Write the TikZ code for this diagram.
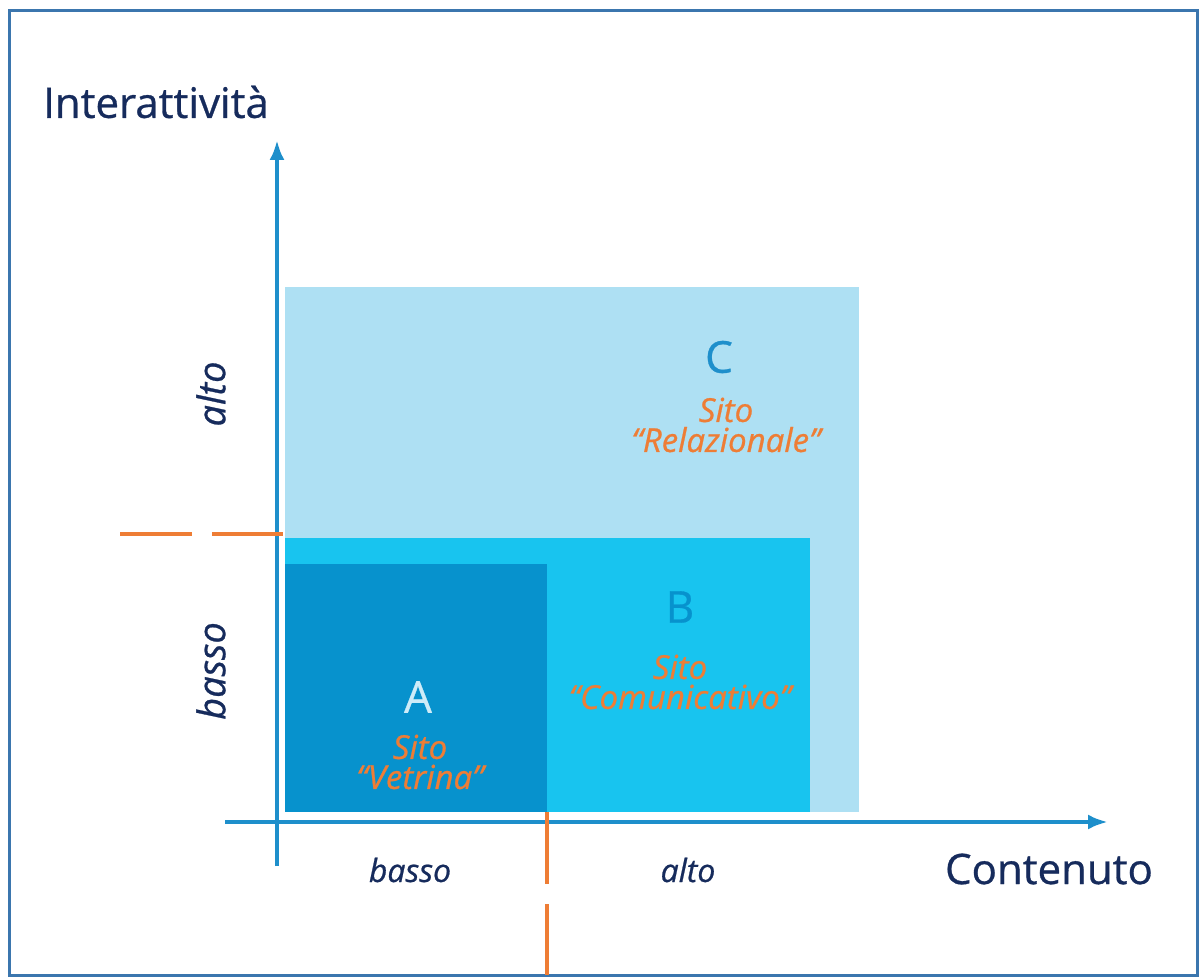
\documentclass[tikz,border=0pt]{standalone}
\usepackage{fontspec}
\setmainfont{Open Sans}[FakeBold=0.7]
\usetikzlibrary{arrows.meta}
\definecolor{frameblue}{HTML}{3B76AE}
\definecolor{axisblue}{HTML}{1E8FCB}
\definecolor{navy}{HTML}{162B5C}
\definecolor{zoneC}{HTML}{AEE0F3}
\definecolor{zoneB}{HTML}{18C4EF}
\definecolor{zoneA}{HTML}{0792CD}
\definecolor{markorange}{HTML}{EE7D35}
\begin{document}
\begin{tikzpicture}[x=0.5pt, y=-0.5pt,
		axis/.style={axisblue, line width=2pt, -{Latex[length=10pt, width=7.5pt]}},
		split/.style={markorange, line width=2pt, dash pattern=on 36pt off 10pt},
		title/.style={navy, font=\fontsize{21}{25}\selectfont},
		level/.style={navy, font=\fontsize{16}{19}\selectfont\itshape},
		sidelevel/.style={level, rotate=90, font=\fontsize{19}{22}\selectfont\itshape},
		zone/.style={font=\fontsize{22}{26}\selectfont},
		kind/.style={markorange, align=center, font=\fontsize{16.5}{15}\selectfont\itshape}]
		% frame
		\useasboundingbox (0, 0) rectangle (1200, 978);
		\draw[frameblue, line width=1.5pt] (9, 11) rectangle (1197, 975);
		% zones, largest first
		\fill[zoneC] (285, 287) rectangle (859, 812);
		\fill[zoneB] (285, 538) rectangle (810, 812);
		\fill[zoneA] (285, 564) rectangle (547, 812);
		% axes
		\coordinate (ybottom) at (277, 866);
		\coordinate (ytop) at (277, 140);
		\coordinate (xleft) at (225, 822);
		\coordinate (xright) at (1108, 822);
		\draw[axis] (ybottom) -- (ytop);
		\draw[axis] (xleft) -- (xright);
		% threshold marks
		\coordinate (hstart) at (120, 534);
		\coordinate (hend) at (283, 534);
		\coordinate (vstart) at (547, 812);
		\coordinate (vend) at (547, 975);
		\draw[split] (hstart) -- (hend);
		\draw[split] (vstart) -- (vend);
		% axis titles
		\node[title] (ytitle) at (156, 102) {Interattività};
		\node[title] (xtitle) at (1049, 869) {Contenuto};
		\node[sidelevel] (yhigh) at (211, 394) {alto};
		\node[sidelevel] (ylow) at (211, 671) {basso};
		\node[level] (xlow) at (410, 870) {basso};
		\node[level] (xhigh) at (688, 870) {alto};
		% zone labels
		\node[zone, text=axisblue] (lblC) at (719, 357) {C};
		\node[kind] (siteC) at (726, 425) {Sito\\``Relazionale''};
		\node[zone, text=zoneA] (lblB) at (680, 607) {B};
		\node[kind] (siteB) at (680, 682) {Sito\\``Comunicativo''};
		\node[zone, text=zoneC!60!white] (lblA) at (418, 697) {A};
		\node[kind] (siteA) at (420, 762) {Sito\\``Vetrina''};
	\end{tikzpicture}
\end{document}
